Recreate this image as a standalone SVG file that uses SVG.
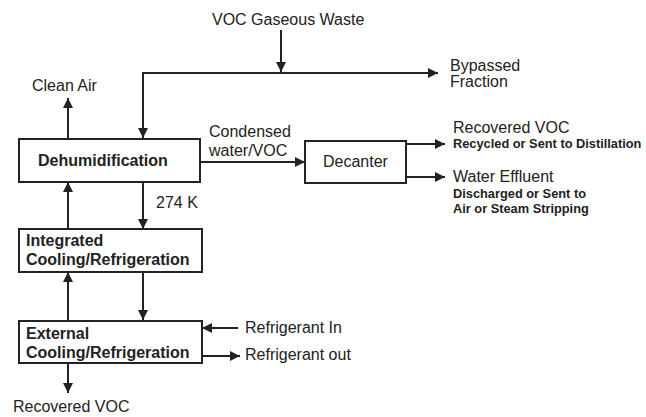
<svg xmlns="http://www.w3.org/2000/svg" width="646" height="417" viewBox="0 0 646 417">
<style>
.box{fill:#fff;stroke:#222;stroke-width:2}
.ln{fill:none;stroke:#222;stroke-width:2}
.t{font-family:"Liberation Sans",Arial,sans-serif;font-size:16px;fill:#222}
.b{font-weight:bold}
.s{font-family:"Liberation Sans",Arial,sans-serif;font-size:12.8px;font-weight:bold;fill:#222}
</style>
<defs>
<marker id="ah" viewBox="0 0 10 10" refX="10" refY="5" markerWidth="11" markerHeight="10" markerUnits="userSpaceOnUse" orient="auto">
<path d="M0,0 L10,5 L0,10 z" fill="#222"/>
</marker>
</defs>
<g id="connectors">
<line class="ln" x1="281" y1="30" x2="281" y2="72" marker-end="url(#ah)"/>
<line class="ln" x1="142" y1="73" x2="438" y2="73" marker-end="url(#ah)"/>
<line class="ln" x1="143" y1="73" x2="143" y2="138" marker-end="url(#ah)"/>
<line class="ln" x1="68" y1="139" x2="68" y2="98" marker-end="url(#ah)"/>
<line class="ln" x1="200" y1="162" x2="305" y2="162" marker-end="url(#ah)"/>
<line class="ln" x1="406" y1="144" x2="445" y2="144" marker-end="url(#ah)"/>
<line class="ln" x1="406" y1="177" x2="445" y2="177" marker-end="url(#ah)"/>
<line class="ln" x1="143" y1="182" x2="143" y2="229" marker-end="url(#ah)"/>
<line class="ln" x1="68" y1="229" x2="68" y2="182" marker-end="url(#ah)"/>
<line class="ln" x1="143" y1="272" x2="143" y2="320" marker-end="url(#ah)"/>
<line class="ln" x1="68" y1="321" x2="68" y2="272" marker-end="url(#ah)"/>
<line class="ln" x1="238" y1="328" x2="202" y2="328" marker-end="url(#ah)"/>
<line class="ln" x1="202" y1="356" x2="240" y2="356" marker-end="url(#ah)"/>
<line class="ln" x1="68" y1="363" x2="68" y2="393" marker-end="url(#ah)"/>
</g>
<g id="labels">
<text class="t" x="212" y="25">VOC Gaseous Waste</text>
<text class="t" x="450" y="71">Bypassed</text>
<text class="t" x="450" y="87">Fraction</text>
<text class="t" x="32" y="91">Clean Air</text>
<text class="t" x="209" y="137">Condensed</text>
<text class="t" x="209" y="156">water/VOC</text>
<text class="t" x="453" y="133">Recovered VOC</text>
<text class="s" x="453" y="148">Recycled or Sent to Distillation</text>
<text class="t" x="453" y="182">Water Effluent</text>
<text class="s" x="453" y="198">Discharged or Sent to</text>
<text class="s" x="453" y="213">Air or Steam Stripping</text>
<text class="t" x="156" y="208">274 K</text>
<text class="t" x="245" y="333">Refrigerant In</text>
<text class="t" x="245" y="360">Refrigerant out</text>
<text class="t" x="13" y="412">Recovered VOC</text>
</g>
<g id="dehumidification">
<rect class="box" x="19" y="139" width="181" height="43"/>
<text class="t b" x="38" y="166">Dehumidification</text>
</g>
<g id="decanter">
<rect class="box" x="305" y="141" width="101" height="42"/>
<text class="t" x="323" y="167">Decanter</text>
</g>
<g id="integrated">
<rect class="box" x="19" y="229" width="183" height="43"/>
<text class="t b" x="26" y="246">Integrated</text>
<text class="t b" x="26" y="265">Cooling/Refrigeration</text>
</g>
<g id="external">
<rect class="box" x="19" y="321" width="183" height="42"/>
<text class="t b" x="26" y="339">External</text>
<text class="t b" x="26" y="358">Cooling/Refrigeration</text>
</g>
</svg>
